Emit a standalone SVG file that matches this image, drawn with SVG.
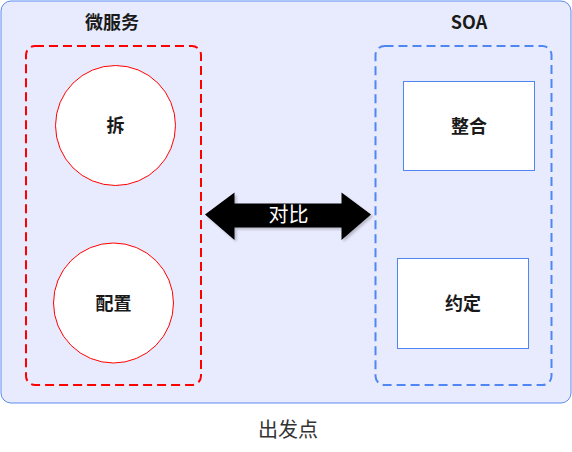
<svg xmlns="http://www.w3.org/2000/svg" width="572" height="452" viewBox="0 0 572 452">
<defs>
<style>
.t{font-family:"Noto Sans CJK SC","Noto Sans",sans-serif;fill:#1a1a1a;}
.b{font-weight:bold;font-size:18px;}
.circ{fill:#ffffff;stroke:#ff0000;stroke-width:1;}
.box{fill:#ffffff;stroke:#4f87f2;stroke-width:1;}
</style>
<filter id="sh" x="-10%" y="-10%" width="130%" height="140%">
<feDropShadow dx="2" dy="2" stdDeviation="0.8" flood-color="#000" flood-opacity="0.2"/>
</filter>
</defs>
<rect width="572" height="452" fill="#ffffff"/>
<g id="container">
<rect x="1" y="1" width="570" height="402" rx="10" fill="#e8eafd" stroke="#5b8def" stroke-width="1"/>
</g>
<g id="microservice">
<rect x="26" y="46" width="175" height="339" rx="9" fill="none" stroke="#ff0000" stroke-width="2" stroke-dasharray="9,5"/>
<text class="t b" x="112" y="29" text-anchor="middle">微服务</text>
</g>
<g id="soa">
<rect x="375.5" y="46" width="176" height="339" rx="9" fill="none" stroke="#4f87f2" stroke-width="2" stroke-dasharray="9,5"/>
<text class="t b" x="469" y="29" text-anchor="middle">SOA</text>
</g>
<g id="node-chai">
<circle class="circ" cx="115.5" cy="125.5" r="60"/>
<text class="t b" x="115.5" y="132" text-anchor="middle">拆</text>
</g>
<g id="node-peizhi">
<circle class="circ" cx="113.5" cy="303" r="60"/>
<text class="t b" x="113.5" y="309.5" text-anchor="middle">配置</text>
</g>
<g id="node-zhenghe">
<rect class="box" x="403.5" y="81.5" width="131" height="89"/>
<text class="t b" x="469" y="132.5" text-anchor="middle">整合</text>
</g>
<g id="node-yueding">
<rect class="box" x="397.5" y="258.5" width="131" height="90"/>
<text class="t b" x="463" y="310" text-anchor="middle">约定</text>
</g>
<g id="connectors">
<polygon points="205,214.5 234.5,192.5 234.5,203.5 341.5,203.5 341.5,192.5 371,214.5 341.5,240 341.5,227.5 234.5,227.5 234.5,240" fill="#000000" filter="url(#sh)"/>
<text class="t" x="288.5" y="222" text-anchor="middle" font-size="20" style="fill:#ffffff">对比</text>
</g>
<text class="t" x="288" y="437" text-anchor="middle" font-size="20" style="fill:#333333">出发点</text>
</svg>
